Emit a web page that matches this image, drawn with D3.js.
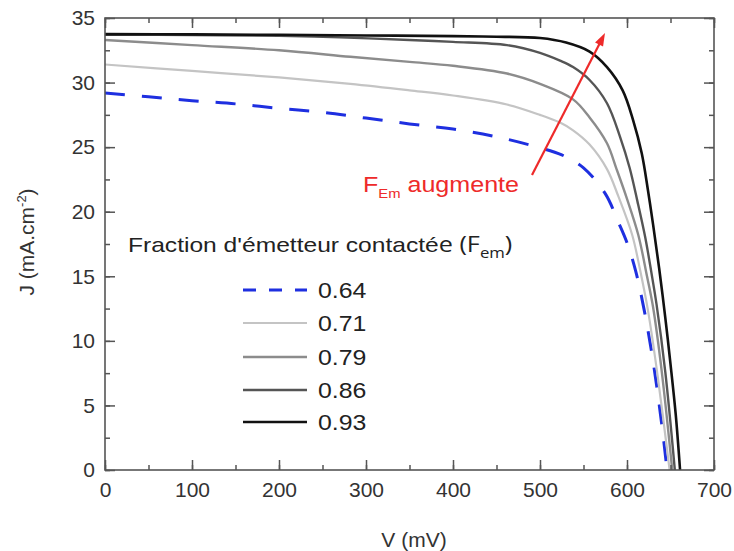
<!DOCTYPE html>
<html>
<head>
<meta charset="utf-8">
<script src="https://cdn.jsdelivr.net/npm/d3@7"></script>
<style>
html,body{margin:0;padding:0;background:#fff;}
svg{display:block;font-family:"Liberation Sans",Arial,sans-serif;}
</style>
</head>
<body>
<svg id="chart" width="734" height="551"></svg>
<script>
// ---- data ----
const seriesNames = ["0.64", "0.71", "0.79", "0.86", "0.93"];
const fem064 = [[0,29.2],[50,28.9],[100,28.6],[150,28.35],[200,28.0],[250,27.7],[300,27.25],[350,26.8],[400,26.4],[450,25.8],[500,24.95],[525,24.4],[550,23.4],[575,21.4],[590,19.2],[600,17.6],[610,15.4],[620,12.3],[630,8.4],[640,3.5],[646,0]];
const fem071 = [[0,31.4],[100,30.9],[200,30.4],[282,29.9],[350,29.4],[400,29.0],[462,28.3],[500,27.5],[523,26.9],[538,26.3],[557,25.2],[577,23.3],[590,21.2],[606,18.2],[615,15.5],[624,12.4],[635,7.4],[649,0]];
const fem079 = [[0,33.3],[100,32.9],[200,32.5],[282,32.0],[350,31.6],[400,31.3],[462,30.7],[500,29.9],[538,28.7],[557,27.3],[577,25.3],[588,23.3],[600,21],[613,18.2],[623,15.0],[630,12.6],[640,7.6],[652,0]];
const fem086 = [[0,33.7],[100,33.68],[200,33.62],[270,33.5],[350,33.3],[400,33.15],[462,32.9],[500,32.3],[523,31.7],[538,31.2],[557,30.2],[577,28.4],[592,25.8],[603,23.4],[612,20.8],[621,18.0],[628,15.3],[634,12.8],[644,7.6],[655,0]];
const fem093 = [[0,33.75],[100,33.73],[200,33.7],[300,33.65],[400,33.6],[450,33.55],[500,33.45],[530,33.1],[557,32.4],[577,31.2],[595,29.4],[607,27.1],[617,24.5],[624,21.7],[630,19.0],[637,15.6],[644,11.8],[650,8.2],[656,4.3],[661,0]];
const seriesData = [fem064, fem071, fem079, fem086, fem093];
const xTicks = [0,100,200,300,400,500,600,700];
const yTicks = [0,5,10,15,20,25,30,35];

// ---- styles ----
const colors = ["#1e2fe0", "#c4c4c4", "#8c8c8c", "#555555", "#111111"];
const widths = [3, 2.2, 2.4, 2.4, 2.6];
const dashes = ["20,17", null, null, null, null];
const legendDashes = ["13,13", null, null, null, null];

const svg = d3.select("#chart");
const L = 105, R = 714, T = 18, B = 470;
const x = d3.scaleLinear().domain([0,700]).range([L,R]);
const y = d3.scaleLinear().domain([0,35]).range([B,T]);

// curves
const line = d3.line().x(d=>x(d[0])).y(d=>y(d[1])).curve(d3.curveCatmullRom.alpha(0.5));
svg.append("clipPath").attr("id","clp").append("rect")
  .attr("x",L).attr("y",T).attr("width",R-L).attr("height",B-T+2);
const gLines = svg.append("g").attr("clip-path","url(#clp)");
seriesData.forEach((s,i)=>{
  gLines.append("path").datum(s).attr("d",line)
    .attr("fill","none").attr("stroke",colors[i]).attr("stroke-width",widths[i])
    .attr("stroke-dasharray",dashes[i]).attr("stroke-linejoin","round");
});

// axes
const axisColor = "#555";
const fontSize = "21px";
const xMinor = d3.range(0,701,50), yMinor = d3.range(0,35.1,2.5);
function styleAxis(g){
  g.select(".domain").remove();
  g.selectAll("line").attr("stroke",axisColor).attr("stroke-width",1.5);
  g.selectAll("text").attr("fill","#333").style("font-size",fontSize);
}
svg.append("g").attr("transform",`translate(0,${B})`)
  .call(d3.axisBottom(x).tickValues(xMinor).tickSize(-5).tickFormat(""))
  .call(styleAxis);
svg.append("g").attr("transform",`translate(0,${B})`)
  .call(d3.axisBottom(x).tickValues(xTicks).tickSize(-10).tickPadding(12).tickFormat(d3.format("d")))
  .call(styleAxis);
svg.append("g").attr("transform",`translate(0,${T})`)
  .call(d3.axisTop(x).tickValues(xMinor).tickSize(-5).tickFormat(""))
  .call(styleAxis);
svg.append("g").attr("transform",`translate(0,${T})`)
  .call(d3.axisTop(x).tickValues(xTicks).tickSize(-10).tickFormat(""))
  .call(styleAxis);
svg.append("g").attr("transform",`translate(${L},0)`)
  .call(d3.axisLeft(y).tickValues(yMinor).tickSize(-5).tickFormat(""))
  .call(styleAxis);
svg.append("g").attr("transform",`translate(${L},0)`)
  .call(d3.axisLeft(y).tickValues(yTicks).tickSize(-10).tickPadding(10).tickFormat(d3.format("d")))
  .call(styleAxis);
svg.append("g").attr("transform",`translate(${R},0)`)
  .call(d3.axisRight(y).tickValues(yMinor).tickSize(-5).tickFormat(""))
  .call(styleAxis);
svg.append("g").attr("transform",`translate(${R},0)`)
  .call(d3.axisRight(y).tickValues(yTicks).tickSize(-10).tickFormat(""))
  .call(styleAxis);
svg.append("rect").attr("x",L).attr("y",T).attr("width",R-L).attr("height",B-T)
  .attr("fill","none").attr("stroke",axisColor).attr("stroke-width",1.6);

// axis titles
svg.append("text").attr("x",414).attr("y",547).attr("text-anchor","middle")
  .attr("fill","#333").style("font-size",fontSize).text("V (mV)");
const yt = svg.append("text").attr("transform","translate(34,242) rotate(-90)")
  .attr("text-anchor","middle").attr("fill","#333").style("font-size",fontSize);
yt.append("tspan").text("J (mA.cm");
yt.append("tspan").attr("dy",-8).style("font-size","13px").text("-2");
yt.append("tspan").attr("dy",8).text(")");

// legend
const lt = svg.append("g").attr("transform","translate(128,252) scale(1.2,1)")
  .append("text").attr("x",0).attr("y",0).attr("fill","#222").style("font-size","20.5px");
lt.append("tspan").text("Fraction d'émetteur contacté");
lt.append("tspan").style("font-family","'Open Sans',sans-serif").style("font-size","21px").text("e (F");
lt.append("tspan").attr("dy",6).style("font-family","'Open Sans',sans-serif").style("font-size","14px").text("em");
lt.append("tspan").attr("dy",-6).style("font-family","'Open Sans',sans-serif").style("font-size","21px").text(")");
const legY = [290,323,357,390,422];
seriesNames.forEach((n,i)=>{
  svg.append("line").attr("x1",243).attr("x2",307).attr("y1",legY[i]).attr("y2",legY[i])
    .attr("stroke",colors[i]).attr("stroke-width",widths[i]).attr("stroke-dasharray",legendDashes[i]);
  svg.append("g").attr("transform",`translate(318,${legY[i]+8}) scale(1.13,1)`)
    .append("text").attr("fill","#222").style("font-size","22px").text(n);
});

// annotation arrow
const red = "#ee2a2a";
const ax1 = 532, ay1 = 175, ax2 = 605, ay2 = 33;
const ang = Math.atan2(ay2-ay1, ax2-ax1);
svg.append("line").attr("x1",ax1).attr("y1",ay1)
  .attr("x2",ax2-10*Math.cos(ang)).attr("y2",ay2-10*Math.sin(ang))
  .attr("stroke",red).attr("stroke-width",2.2);
const hl = 13, hw = 4.5;
const bx = ax2-hl*Math.cos(ang), by = ay2-hl*Math.sin(ang);
const px = -Math.sin(ang), py = Math.cos(ang);
svg.append("path").attr("d",`M${ax2},${ay2}L${bx+hw*px},${by+hw*py}L${bx-hw*px},${by-hw*py}Z`).attr("fill",red);
const at = svg.append("g").attr("transform","translate(363,192) scale(1.14,1)")
  .append("text").attr("fill",red).style("font-size","22px");
at.append("tspan").text("F");
at.append("tspan").attr("dy",6).style("font-size","13px").text("Em");
at.append("tspan").attr("dy",-6).text(" augmente");
</script>
</body>
</html>
